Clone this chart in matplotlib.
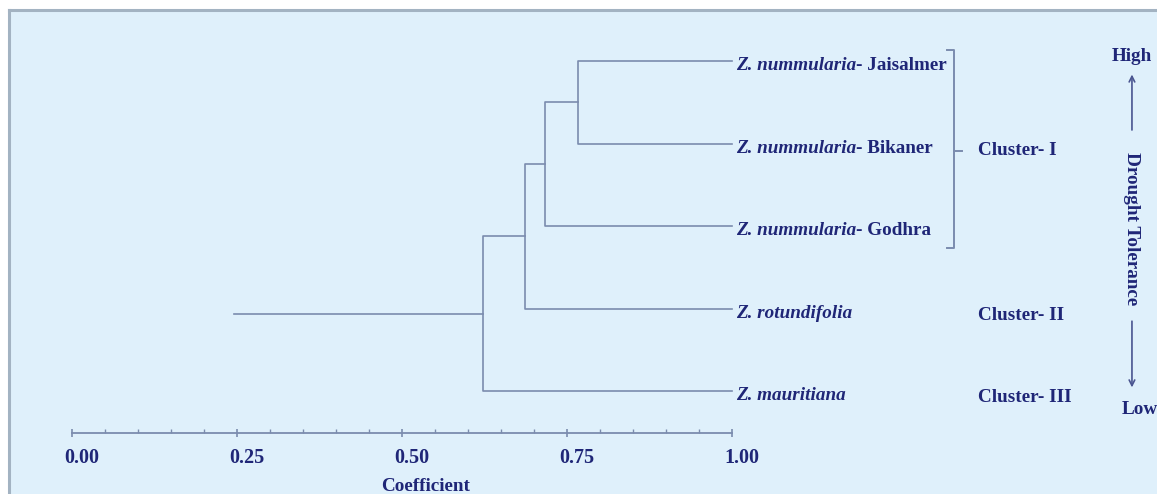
import matplotlib.pyplot as plt
from matplotlib.patches import Rectangle
from matplotlib.lines import Line2D
from matplotlib.transforms import ScaledTranslation

# leaves, top to bottom
genus = ["Z. nummularia", "Z. nummularia", "Z. nummularia", "Z. rotundifolia", "Z. mauritiana"]
place = ["- Jaisalmer", "- Bikaner", "- Godhra", "", ""]
# merges: (child a, child b, coefficient); new node ids start at 5
merges = [(0, 1, 0.766), (5, 2, 0.717), (6, 3, 0.687), (7, 4, 0.622)]
root_start = 0.245
clusters = ["Cluster- I", "Cluster- II", "Cluster- III"]
cluster_rows = [1.0, 3.0, 4.0]
ticks = [0.00, 0.25, 0.50, 0.75, 1.00]

W, H = 1157, 494
line_c = "#7b8cae"
txt_c = "#1f2677"
bg_c = "#dff0fb"
font = "Liberation Serif"
fs = 13.8

fig = plt.figure(figsize=(W / 100, H / 100), dpi=100, facecolor="white")
fig.add_artist(Rectangle((9 / W, 0), 1, (H - 10) / H, transform=fig.transFigure,
                         facecolor=bg_c, edgecolor="none", zorder=-5))
fig.add_artist(Line2D([9 / W, 1], [(H - 10) / H] * 2, transform=fig.transFigure,
                      color="#a3b3c2", lw=2.2))
fig.add_artist(Line2D([9 / W] * 2, [0, (H - 10) / H], transform=fig.transFigure,
                      color="#a3b3c2", lw=2.2))

ax = fig.add_axes([72 / W, (H - 433) / H, 660 / W, (433 - 20) / H])
ax.set_facecolor("none")
ax.set_xlim(0, 1)
ax.set_ylim(4.509, -0.497)

# dendrogram
pos = {i: (1.0, float(i)) for i in range(len(genus))}
node = len(genus)
for a, b, h in merges:
    xa, ya = pos[a]
    xb, yb = pos[b]
    ax.plot([xa, h, h, xb], [ya, ya, yb, yb], color=line_c, lw=1.2, clip_on=False)
    pos[node] = (h, (ya + yb) / 2)
    node += 1
rx, ry = pos[node - 1]
ax.plot([root_start, rx], [ry, ry], color=line_c, lw=1.2, clip_on=False)

# leaf labels
for i, (g, p) in enumerate(zip(genus, place)):
    t = ax.text(1.006, i + 0.06, g, fontsize=fs, family=font, style="italic",
                weight="bold", color=txt_c, va="center", ha="left")
    if p:
        ax.annotate(p, xy=(1, 0.5), xycoords=t, va="center", ha="left",
                    fontsize=fs, family=font, weight="bold", color=txt_c)

# bracket for cluster I
bx = 1.336
ax.plot([bx - 0.01, bx, bx, bx - 0.01], [-0.13, -0.13, 2.27, 2.27],
        color=line_c, lw=1.4, clip_on=False)
ax.plot([bx, bx + 0.012], [1.09, 1.09], color=line_c, lw=1.4, clip_on=False)
for lab, r in zip(clusters, cluster_rows):
    ax.text(1.373, r + 0.08, lab, fontsize=fs, family=font, weight="bold",
            color=txt_c, va="center", ha="left")

# drought tolerance
dx = 1.606
ax.text(dx, -0.05, "High", fontsize=fs, family=font, weight="bold",
        color=txt_c, va="center", ha="center")
ax.annotate("", xy=(dx, 0.13), xytext=(dx, 0.87), annotation_clip=False,
            arrowprops=dict(arrowstyle="->", color="#4a5590", lw=1.2))
ax.text(dx, 2.03, "Drought Tolerance", rotation=270, fontsize=fs, family=font,
        weight="bold", color=txt_c, va="center", ha="center")
ax.annotate("", xy=(dx, 3.99), xytext=(dx, 3.12), annotation_clip=False,
            arrowprops=dict(arrowstyle="->", color="#4a5590", lw=1.2))
ax.text(1.591, 4.23, "Low", fontsize=fs, family=font, weight="bold",
        color=txt_c, va="center", ha="left")

# coefficient scale
for s in ["top", "left", "right"]:
    ax.spines[s].set_visible(False)
ax.spines["bottom"].set_color(line_c)
ax.spines["bottom"].set_linewidth(1.3)
ax.set_yticks([])
ax.set_xticks(ticks)
ax.set_xticklabels([f"{v:.2f}" for v in ticks])
ax.set_xticks([i * 0.05 for i in range(21)], minor=True)
ax.tick_params(axis="x", which="major", direction="inout", length=6,
               color=line_c, width=1.2, pad=8, labelsize=14.5, labelcolor=txt_c)
ax.tick_params(axis="x", which="minor", direction="in", length=3,
               color=line_c, width=1.0)
for lab in ax.get_xticklabels():
    lab.set_family(font)
    lab.set_weight("bold")
    lab.set_transform(lab.get_transform() + ScaledTranslation(0.1, 0, fig.dpi_scale_trans))
ax.set_xlabel("Coefficient", fontsize=fs, family=font, weight="bold", color=txt_c)
ax.xaxis.set_label_coords(0.536, -0.11)
ax.xaxis.label.set_va("top")

fig.savefig("out.png", dpi=100, facecolor="white")
